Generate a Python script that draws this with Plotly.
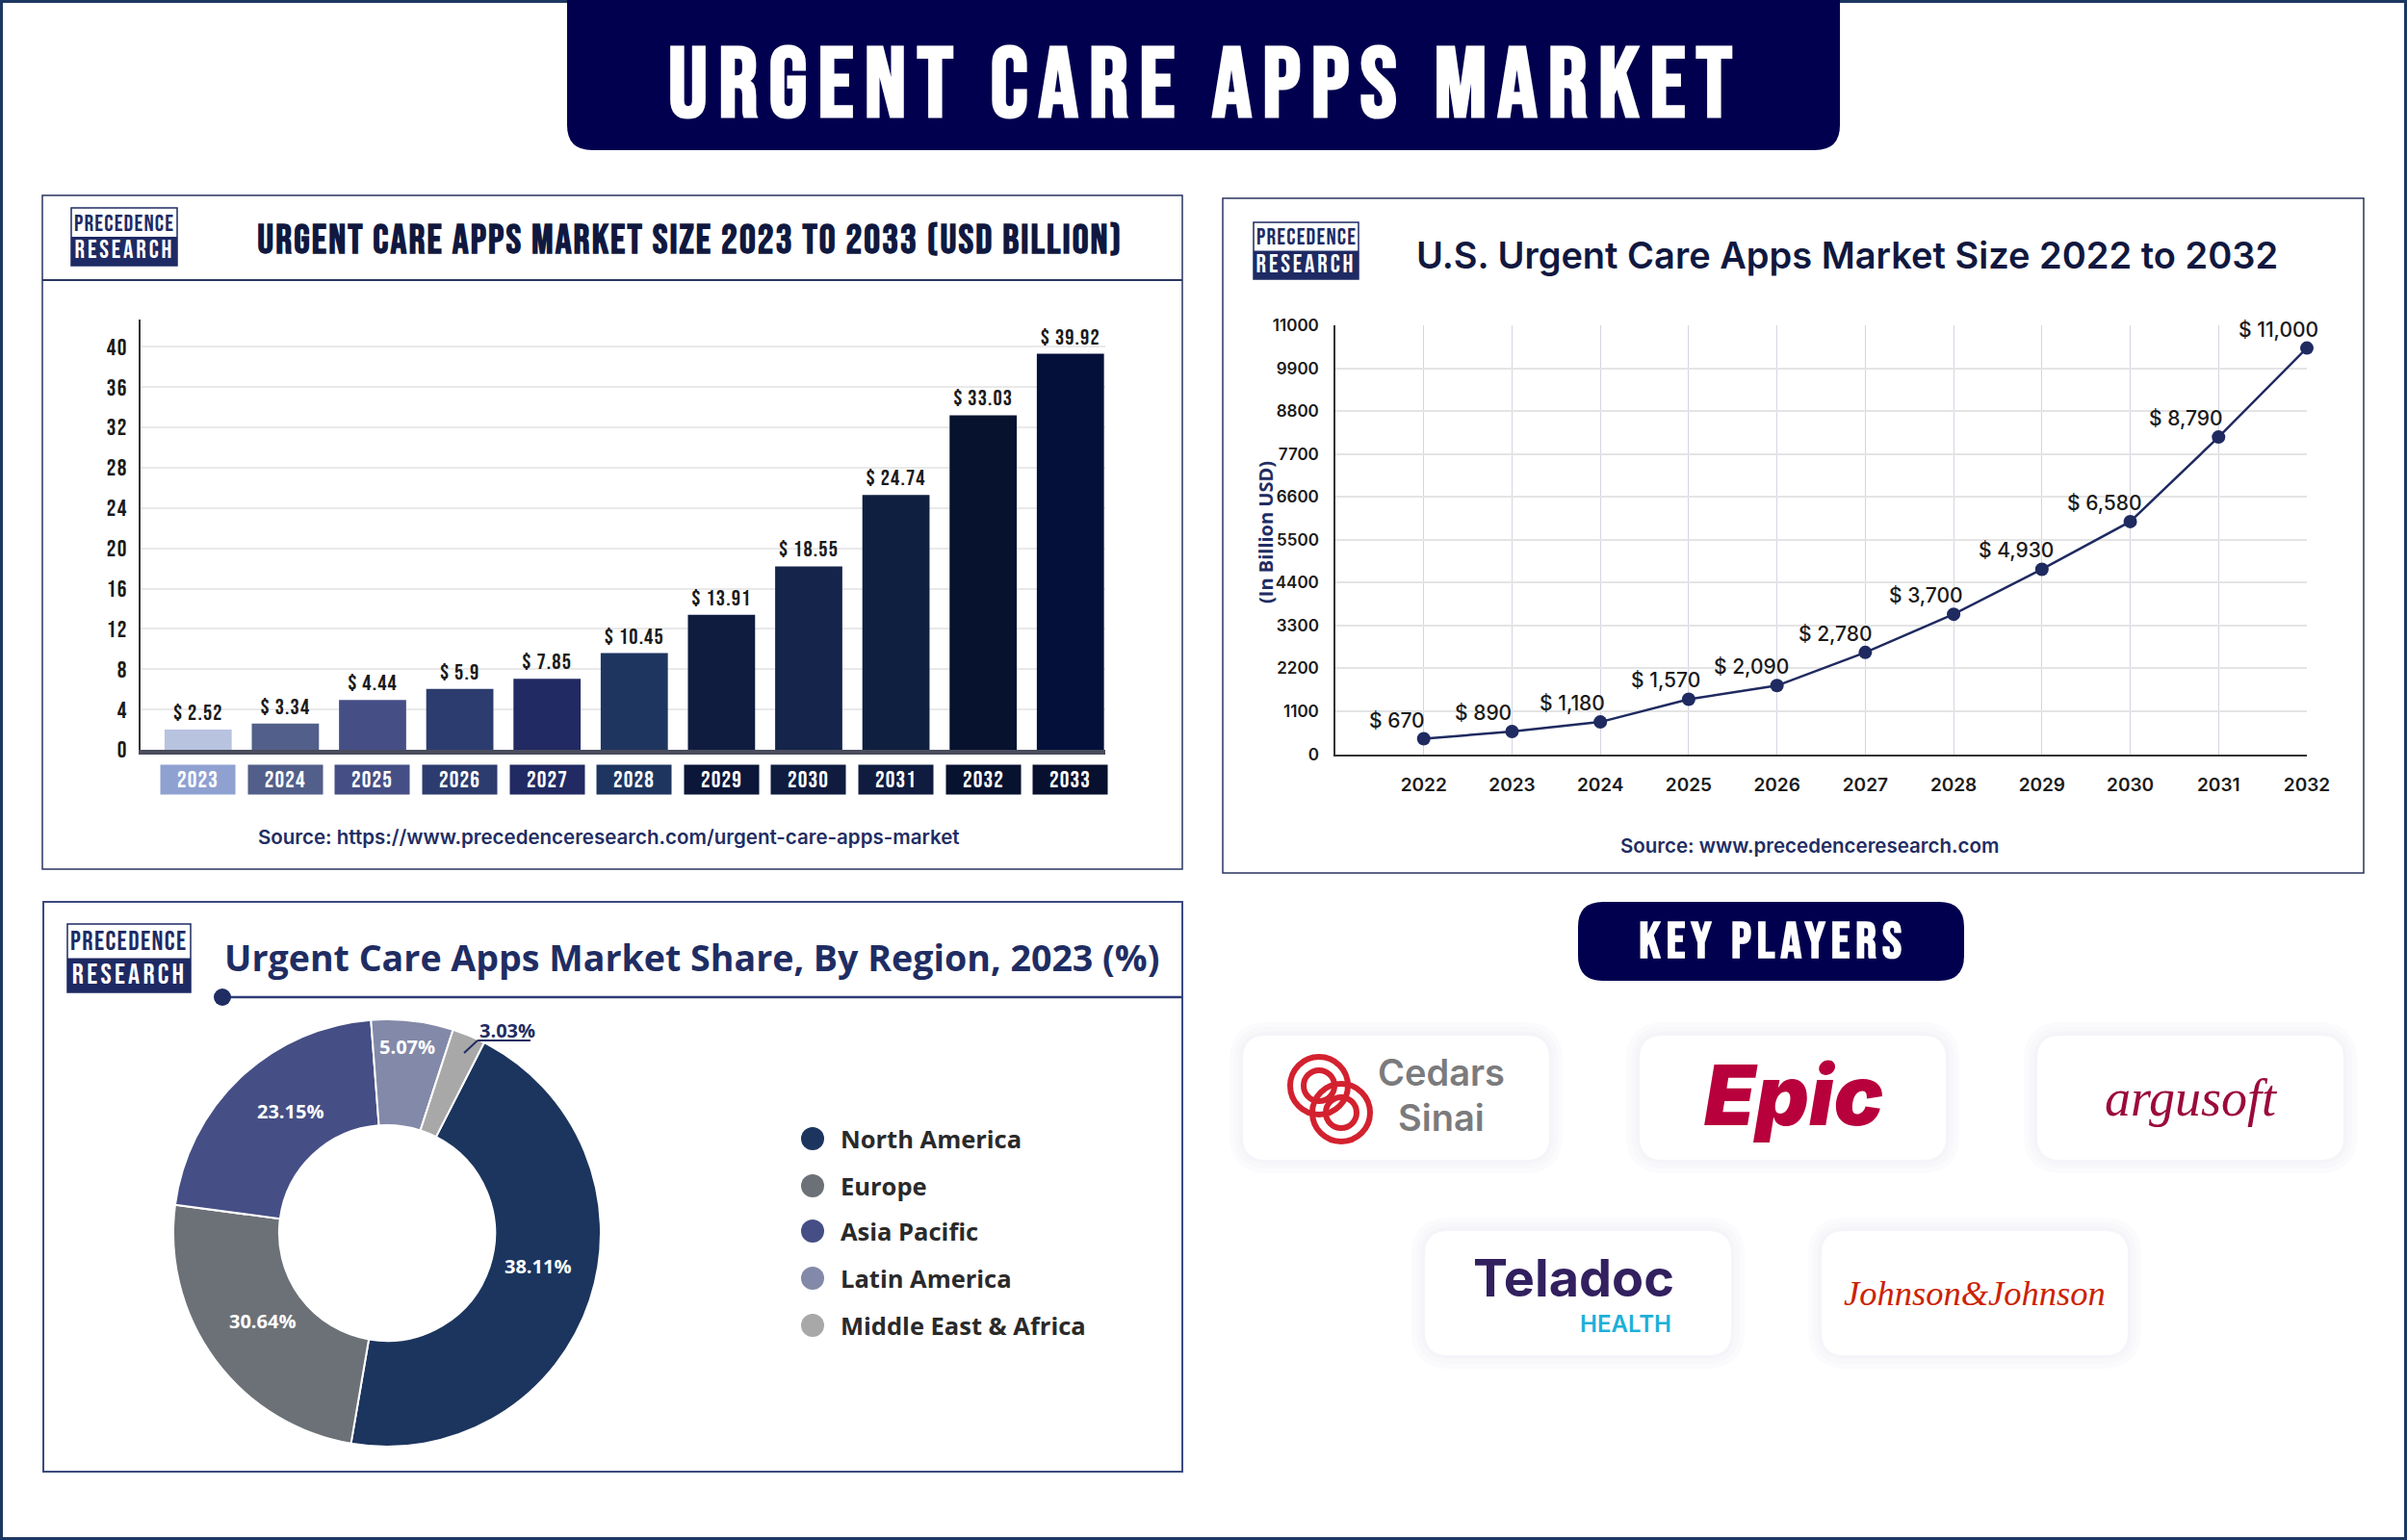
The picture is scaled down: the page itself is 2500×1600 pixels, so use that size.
import plotly.graph_objects as go

W = 2500
H = 1600

NAVY = "#00004f"
TEXT_NAVY = "#1f2d63"
CONDENSED = "Bebas Neue, Roboto"

# ==========================================================
# Data
# Drawn sizes are read off the axes. In the source picture they do not
# quite follow the printed labels, so both are kept.
# ==========================================================
bar_years = ["2023", "2024", "2025", "2026", "2027", "2028", "2029", "2030", "2031", "2032", "2033"]
bar_heights = [2.0, 2.6, 4.95, 6.05, 7.05, 9.6, 13.4, 18.2, 25.3, 33.2, 39.3]
bar_labels = ["$ 2.52", "$ 3.34", "$ 4.44", "$ 5.9", "$ 7.85", "$ 10.45", "$ 13.91", "$ 18.55", "$ 24.74", "$ 33.03", "$ 39.92"]
bar_colors = ["#b8c3e0", "#525f8a", "#454f85", "#2c3c6e", "#212a63", "#1e355f", "#0f1c40", "#14244a", "#0f1f40", "#07122f", "#04103a"]
box_colors = ["#8fa1d1", "#525f8a", "#454f85", "#2c3c6e", "#212a63", "#1e355f", "#0b1638", "#0f1c40", "#0f1c40", "#07122f", "#07102f"]
bar_ticks = [0, 4, 8, 12, 16, 20, 24, 28, 32, 36, 40]

line_years = ["2022", "2023", "2024", "2025", "2026", "2027", "2028", "2029", "2030", "2031", "2032"]
line_values = [396, 583, 827, 1410, 1760, 2610, 3590, 4743, 5966, 8134, 10418]
line_labels = ["$ 670", "$ 890", "$ 1,180", "$ 1,570", "$ 2,090", "$ 2,780", "$ 3,700", "$ 4,930", "$ 6,580", "$ 8,790", "$ 11,000"]
line_ticks = [0, 1100, 2200, 3300, 4400, 5500, 6600, 7700, 8800, 9900, 11000]

regions = ["North America", "Europe", "Asia Pacific", "Latin America", "Middle East & Africa"]
region_slices = [45.2, 24.4, 21.7, 6.2, 2.5]
region_labels = ["38.11%", "30.64%", "23.15%", "5.07%", "3.03%"]
region_colors = ["#1c355e", "#6c7177", "#454f85", "#8389a8", "#a8a8a8"]

# How far each line label runs past its point, in pixels
label_shifts = [3, 2, 7, 14, 14, 10, 12, 14, 14, 6, 14]

# Letter spacing is not a plotly font attribute, so it goes on after drawing
SPACING_JS = """
document.body.style.margin = '0';
document.querySelectorAll('svg text').forEach(function (t) {
    if (t.style.fontFamily.indexOf('Bebas') < 0) return;
    var spacing = '0.05em';
    if (parseFloat(t.style.fontSize) >= 50 || t.textContent === 'RESEARCH') spacing = '0.11em';
    t.style.letterSpacing = spacing;
});
"""


def px(x):
    return x / W


def py(y):
    return 1 - y / H


def rounded_path(x0, y0, x1, y1, r, top=True):
    # Rounded box as a paper path, the top corners stay square for the header
    rx = r / W
    ry = r / H
    l, rt, t, b = px(x0), px(x1), py(y0), py(y1)
    path = f"M {l + rx},{b}"
    path += f" L {rt - rx},{b} Q {rt},{b} {rt},{b + ry}"
    if top:
        path += f" L {rt},{t - ry} Q {rt},{t} {rt - rx},{t}"
        path += f" L {l + rx},{t} Q {l},{t} {l},{t - ry}"
    else:
        path += f" L {rt},{t} L {l},{t}"
    path += f" L {l},{b + ry} Q {l},{b} {l + rx},{b} Z"
    return path


shapes = []
notes = []


def box(x0, y0, x1, y1, fill="rgba(0,0,0,0)", line=None, width=0):
    shapes.append(dict(
        type="rect", xref="paper", yref="paper",
        x0=px(x0), x1=px(x1), y0=py(y0), y1=py(y1),
        fillcolor=fill, line=dict(color=line, width=width), layer="below"
    ))


def seg(x0, y0, x1, y1, color, width, layer="below"):
    shapes.append(dict(
        type="line", xref="paper", yref="paper",
        x0=px(x0), x1=px(x1), y0=py(y0), y1=py(y1),
        line=dict(color=color, width=width), layer=layer
    ))


def dot(x, y, r, fill, line=None, width=0):
    shapes.append(dict(
        type="circle", xref="paper", yref="paper",
        x0=px(x - r), x1=px(x + r), y0=py(y + r), y1=py(y - r),
        fillcolor=fill, line=dict(color=line, width=width), layer="below"
    ))


def label(x, y, text, size, color, family, weight=400, anchor="center", style="normal", angle=0):
    notes.append(dict(
        xref="paper", yref="paper", x=px(x), y=py(y), text=text, showarrow=False,
        xanchor=anchor, yanchor="middle", textangle=angle,
        font=dict(size=size, color=color, family=family, weight=weight, style=style)
    ))


def logo(x0, y0, x1, y1, size):
    mid = (y0 + y1) / 2
    box(x0, y0, x1, y1, "white", "#1e2a63", 1.5)
    box(x0, mid, x1, y1, "#1e2a63")
    label((x0 + x1) / 2, (y0 + mid) / 2 + 1, "PRECEDENCE", size, "#1e2a63", CONDENSED, 500)
    label((x0 + x1) / 2, (mid + y1) / 2, "RESEARCH", size + 2, "white", CONDENSED, 500)


def card(x0, y0):
    x1, y1 = x0 + 318, y0 + 129
    for grow, tone in [(14, "#fbfbfd"), (9, "#f8f8fb"), (4, "#f4f4f9")]:
        shapes.append(dict(type="path", xref="paper", yref="paper", layer="below",
                           path=rounded_path(x0 - grow, y0 - grow, x1 + grow, y1 + grow, 26 + grow),
                           fillcolor=tone, line=dict(width=0)))
    shapes.append(dict(type="path", xref="paper", yref="paper", layer="below",
                       path=rounded_path(x0, y0, x1, y1, 24),
                       fillcolor="white", line=dict(width=0)))


fig = go.Figure()

# ==========================================================
# Market size bars
# ==========================================================
fig.add_trace(go.Bar(
    x=bar_years, y=bar_heights, width=0.77,
    marker=dict(color=bar_colors, line=dict(width=0)),
    text=bar_labels, textposition="outside", textangle=0, cliponaxis=False,
    constraintext="none",
    textfont=dict(size=23, color="#1a1a1a", family=CONDENSED, weight=500),
    xaxis="x", yaxis="y", showlegend=False
))

# ==========================================================
# U.S. line
# ==========================================================
fig.add_trace(go.Scatter(
    x=line_years, y=line_values, mode="lines+markers", cliponaxis=False,
    line=dict(color="#1f2a60", width=2.5), marker=dict(color="#1f2a60", size=14),
    xaxis="x2", yaxis="y2", showlegend=False
))

# ==========================================================
# Region donut
# ==========================================================
fig.add_trace(go.Pie(
    labels=regions, values=region_slices, textinfo="none",
    hole=0.505, sort=False, direction="clockwise", rotation=27,
    marker=dict(colors=region_colors, line=dict(color="white", width=2)),
    domain=dict(x=[px(180), px(624)], y=[py(1503), py(1059)]),
    showlegend=False
))

# Share labels, the last one sits outside its slice
for text, (x, y) in zip(region_labels[:4], [(558, 1315), (272, 1372), (301, 1154), (423, 1087)]):
    label(x, y, text, 20, "white", "Open Sans", 700)
label(527, 1070, region_labels[4], 20, TEXT_NAVY, "Open Sans", 700)
seg(496, 1081, 551, 1081, TEXT_NAVY, 2, layer="above")
seg(482, 1094, 496, 1081, TEXT_NAVY, 2, layer="above")

# Year boxes under the bars
for i, year in enumerate(bar_years):
    notes.append(dict(
        x=i, y=0, xref="x", yref="y", yshift=-31, text=year, showarrow=False,
        width=75, height=28, bgcolor=box_colors[i], align="center", valign="middle",
        font=dict(size=24, color="white", family=CONDENSED, weight=500)
    ))

# Value labels of the line
for i, text in enumerate(line_labels):
    notes.append(dict(
        x=i, y=line_values[i], xref="x2", yref="y2", xanchor="right", yanchor="bottom",
        xshift=label_shifts[i], yshift=5, text=text, showarrow=False,
        font=dict(size=21, color="#1a1a1a", family="Inter", weight=500)
    ))

# ==========================================================
# Frame, header and panels
# ==========================================================
box(1.5, 1.5, W - 1.5, H - 1.5, line="#1d3860", width=3)
shapes.append(dict(type="path", xref="paper", yref="paper", layer="below",
                   path=rounded_path(589, 0, 1911, 156, 26, top=False),
                   fillcolor=NAVY, line=dict(width=0)))
label(1252, 90, "URGENT CARE APPS MARKET", 102, "white", CONDENSED, 700)

box(44, 203, 1228, 903, line="#2a3560", width=1.5)
seg(44, 291, 1228, 291, "#2a3560", 2)
logo(74, 216, 184, 276, 24)
label(717, 251, "URGENT CARE APPS MARKET SIZE 2023 TO 2033 (USD BILLION)", 42, "#10183f", CONDENSED, 700)
label(632, 870, "Source: https://www.precedenceresearch.com/urgent-care-apps-market", 20.5, TEXT_NAVY, "Inter", 600)

box(1270, 206, 2455, 907, line="#2a3560", width=1.5)
logo(1302, 231, 1411, 290, 24)
label(1919, 265, "U.S. Urgent Care Apps Market Size 2022 to 2032", 38, "#10183f", "Inter", 600)
label(1879, 879, "Source: www.precedenceresearch.com", 20.5, TEXT_NAVY, "Inter", 600)
label(1314, 553, "(In Billion USD)", 20, TEXT_NAVY, "Open Sans", 700, angle=-90)

box(45, 937, 1228, 1529, line="#3c4a80", width=2)
logo(70, 960, 198, 1031, 28)
label(718, 995, "Urgent Care Apps Market Share, By Region, 2023 (%)", 37.6, TEXT_NAVY, "Open Sans", 700)
seg(231, 1036, 1228, 1036, "#2f3c78", 2.5)
dot(231, 1036, 9, TEXT_NAVY)

# Legend
for name, color, y in zip(regions, region_colors, [1183, 1232, 1279, 1328, 1377]):
    dot(844, y, 12, color)
    label(871, y, name, 25.5, "#2a2a2a", "Open Sans", 700, anchor="left")

# ==========================================================
# Key players
# ==========================================================
shapes.append(dict(type="path", xref="paper", yref="paper", layer="below",
                   path=rounded_path(1639, 937, 2040, 1019, 26),
                   fillcolor=NAVY, line=dict(width=0)))
label(1841, 979, "KEY PLAYERS", 54, "white", CONDENSED, 700)

for x0, y0 in [(1291, 1076), (1703, 1076), (2116, 1076), (1480, 1279), (1892, 1279)]:
    card(x0, y0)

# Cedars Sinai
for cx, cy in [(1370, 1128), (1393, 1156)]:
    dot(cx, cy, 30, "rgba(0,0,0,0)", "#d3212f", 6)
    dot(cx, cy, 16, "rgba(0,0,0,0)", "#d3212f", 6)
label(1497, 1114, "Cedars", 38, "#7b7b7d", "Inter", 600)
label(1497, 1161, "Sinai", 38, "#7b7b7d", "Inter", 600)

label(1863, 1138, "Epic", 86, "#b8003c", "Inter", 900, style="italic")
label(2276, 1141, "argusoft", 54, "#9b0a3c", "Liberation Serif", 400, style="italic")

label(1634, 1327, "Teladoc", 54, "#32205f", "Inter", 700)
label(1688, 1375, "HEALTH", 24, "#1cb0d8", "Inter", 600)
label(2051, 1343, "Johnson&Johnson", 36.5, "#cc2200", "Liberation Serif", 400, style="italic")

fig.update_layout(
    width=W,
    height=H,
    margin=dict(l=0, r=0, t=0, b=0, autoexpand=False),
    paper_bgcolor="white",
    plot_bgcolor="rgba(0,0,0,0)",
    shapes=shapes,
    annotations=notes,
    xaxis=dict(
        domain=[px(146), px(1148)], type="category", range=[-0.66, 10.4],
        showticklabels=False, ticks="", showgrid=False, zeroline=False,
        showline=True, linecolor="#4a4d5c", linewidth=5
    ),
    yaxis=dict(
        domain=[py(779), py(332)], range=[0, 42.7], tickvals=bar_ticks,
        gridcolor="#e9e9e9", gridwidth=2, zeroline=False, ticks="",
        showline=True, linecolor="#333333", linewidth=1.5, ticklabelstandoff=7,
        tickfont=dict(size=24, color="#1a1a1a", family=CONDENSED, weight=500)
    ),
    xaxis2=dict(
        domain=[px(1387), px(2396)], type="category", range=[-1, 10], anchor="y2",
        gridcolor="#d5d5e2", gridwidth=1, zeroline=False, ticks="",
        showline=True, linecolor="#333333", linewidth=2, ticklabelstandoff=14,
        tickfont=dict(size=19, color="#1a1a1a", family="Inter", weight=600)
    ),
    yaxis2=dict(
        domain=[py(783.6), py(338)], range=[0, 11000], tickvals=line_ticks, anchor="x2",
        tickformat="d", gridcolor="#e4e4e4", gridwidth=2, zeroline=False, ticks="",
        showline=True, linecolor="#333333", linewidth=1.5, ticklabelstandoff=12,
        tickfont=dict(size=17, color="#1a1a1a", family="Inter", weight=600)
    )
)

fig.write_html("out.html", post_script=SPACING_JS, config={"displayModeBar": False})
